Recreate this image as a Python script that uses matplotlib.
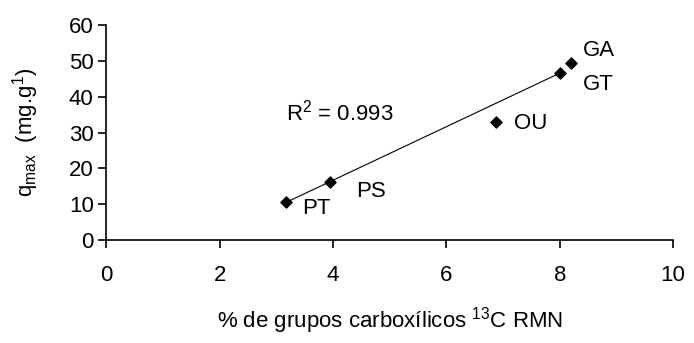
import numpy as np
import matplotlib
matplotlib.use("Agg")
import matplotlib.pyplot as plt

plt.rcParams['font.family'] = ['Liberation Sans', 'DejaVu Sans']
plt.rcParams['mathtext.default'] = 'regular'

# datos
muestras = ['PT', 'PS', 'OU', 'GT', 'GA']
carbox = [3.17, 3.95, 6.88, 8.0, 8.2]
qmax = [10.6, 16.2, 33.0, 46.6, 49.4]
# la recta de tendencia usa PT, PS y GT
ajuste = ['PT', 'PS', 'GT']
etiq_x = [3.45, 4.4, 7.2, 8.4, 8.4]
etiq_y = [8.8, 13.5, 32.5, 43.5, 53.0]

fig = plt.figure(figsize=(6.94, 3.43), dpi=100)
ax = fig.add_axes([0.153, 0.30, 0.817, 0.627])

ax.scatter(carbox, qmax, marker='D', s=32, color='black', zorder=3)

xs = np.array([carbox[muestras.index(m)] for m in ajuste])
ys = np.array([qmax[muestras.index(m)] for m in ajuste])
p = np.polyfit(xs, ys, 1)
xl = np.array([xs.min(), xs.max() - 0.05])
ax.plot(xl, np.polyval(p, xl), color='black', lw=0.8)

for m, tx, ty in zip(muestras, etiq_x, etiq_y):
    ax.text(tx, ty, m, fontsize=16, va='center', ha='left')

ax.text(3.17, 35.5, 'R$^2$ = 0.993', fontsize=16, va='center', ha='left')

ax.set_xlim(0, 10)
ax.set_ylim(0, 60)
ax.set_xticks(range(0, 11, 2))
ax.set_yticks(range(0, 61, 10))
ax.tick_params(direction='out', length=6, width=1.2, labelsize=16)
ax.tick_params(axis='x', pad=12)
ax.tick_params(axis='y', pad=3)
for s in ['top', 'right']:
    ax.spines[s].set_visible(False)
for s in ['left', 'bottom']:
    ax.spines[s].set_linewidth(1.2)

ax.set_xlabel('% de grupos carboxílicos $^{13}$C RMN', fontsize=16, labelpad=14)
ax.set_ylabel('q$_{max}$  (mg.g$^{1}$)', fontsize=16, labelpad=20)

fig.savefig('out.png', dpi=100)
